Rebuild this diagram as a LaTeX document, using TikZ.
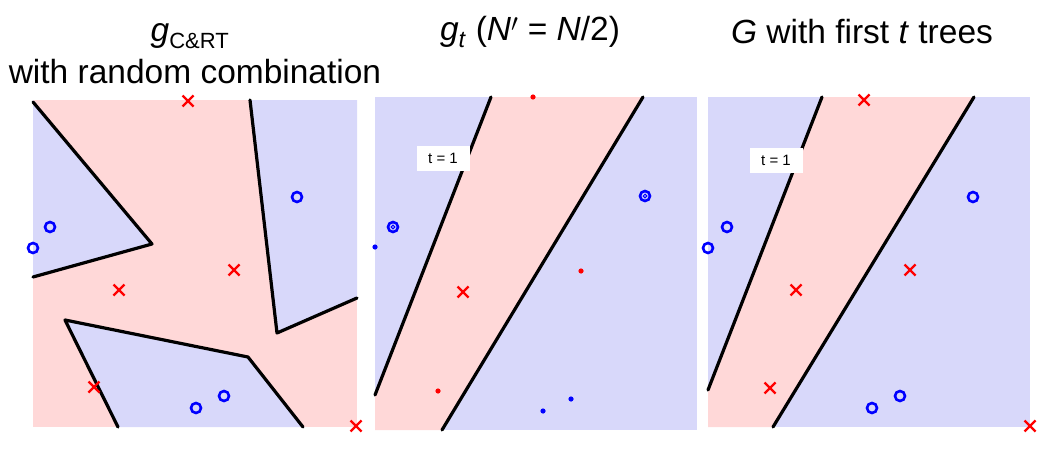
\documentclass[tikz,border=0pt]{standalone}
\usepackage{fontspec}
\setmainfont{Liberation Sans}
\definecolor{pk}{RGB}{255,216,216}
\definecolor{bl}{RGB}{216,216,250}
\begin{document}
\begin{tikzpicture}[x=1pt,y=-1pt,
 bnd/.style={line width=3.2pt,black,line cap=round,line join=round},
 xm/.style={red,line width=2.4pt},
 om/.style={blue,line width=2.6pt},
 ttl/.style={font=\fontsize{33.5}{36}\selectfont,inner sep=0pt},
 tlab/.style={fill=white,font=\fontsize{15}{17}\selectfont,minimum width=53pt,minimum height=25pt,inner sep=0pt}]
\useasboundingbox (0,0) rectangle (1055,452);
\newcommand\xmk[2]{\draw[xm] (#1-5.5,#2-5.5)--(#1+5.5,#2+5.5) (#1-5.5,#2+5.5)--(#1+5.5,#2-5.5);}
\newcommand\omk[2]{\draw[om] (#1,#2) circle (5);}
% titles
\node[ttl] (t1a) at (190,36) {\textit{g}\textsubscript{\fontsize{22}{24}\selectfont C\&RT}};
\node[ttl] (t1b) at (195,72) {with random combination};
\node[ttl] (t2) at (530,32) {\textit{g}\textsubscript{\textit{t}} (\textit{N}$'$ = \textit{N}/2)};
\node[ttl] (t3) at (862,32) {\textit{G} with first \textit{t} trees};
% panel 1
\fill[pk] (33,100) rectangle (357,427);
\fill[bl] (33,100)--(152,244)--(33,277)--cycle;
\fill[bl] (250,100)--(357,100)--(357,298)--(277,333)--cycle;
\fill[bl] (65,320)--(248,357)--(303,427)--(118,427)--cycle;
\draw[bnd] (33,102)--(152,244)--(33,277);
\draw[bnd] (250,100)--(277,333)--(357,298);
\draw[bnd] (118,427)--(65,320)--(248,357)--(303,427);
\xmk{188}{101}\xmk{234}{270}\xmk{119}{290}\xmk{94}{387}\xmk{356}{426}
\omk{50}{227}\omk{33}{248}\omk{297}{197}\omk{224}{396}\omk{196}{408}
% panel 2
\fill[bl] (375,97) rectangle (697,430);
\fill[pk] (491,97)--(643,97)--(442,430)--(375,430)--(375,395)--cycle;
\draw[bnd] (491,97)--(375,395);
\draw[bnd] (643,97)--(442,430);
\node[tlab] (l2) at (443,158) {t = 1};
\foreach \p in {(533,97),(581,271),(438,391)} \fill[red] \p circle (2.6);
\xmk{463}{292}
\foreach \p in {(645,196),(393,227)} {\draw[om] \p circle (5); \draw[blue,line width=1pt] \p circle (1.8);}
\foreach \p in {(375,247),(543,411),(571,399)} \fill[blue] \p circle (2.6);
% panel 3
\fill[bl] (708,97) rectangle (1030,427);
\fill[pk] (822,97)--(974,97)--(773,427)--(708,427)--(708,390)--cycle;
\draw[bnd] (822,97)--(708,390);
\draw[bnd] (974,97)--(773,427);
\node[tlab] (l3) at (776,160) {t = 1};
\xmk{864}{100}\xmk{910}{270}\xmk{796}{290}\xmk{770}{388}\xmk{1030}{426}
\omk{727}{227}\omk{708}{248}\omk{973}{197}\omk{900}{396}\omk{872}{408}
\end{tikzpicture}
\end{document}
